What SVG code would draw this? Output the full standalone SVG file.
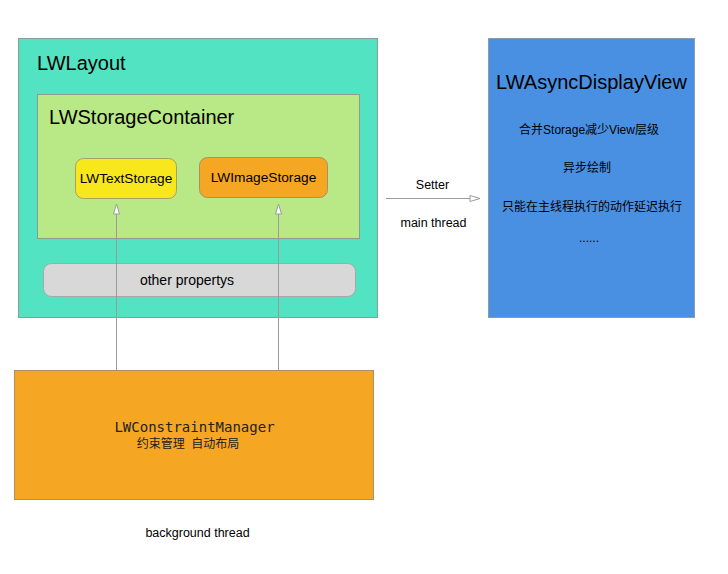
<svg xmlns="http://www.w3.org/2000/svg" width="728" height="574" viewBox="0 0 728 574">
<style>
.sans{font-family:"Liberation Sans","Noto Sans CJK SC",Arial,sans-serif;fill:#000}
.mono{font-family:"DejaVu Sans Mono","Liberation Mono",monospace;fill:#222}
.box{stroke:#8f9a94;stroke-width:1}
.conn{stroke:#9b9b9b;stroke-width:1;fill:none}
</style>
<defs>
<marker id="ah" markerWidth="12" markerHeight="8" refX="11" refY="4" orient="auto" markerUnits="userSpaceOnUse">
<path d="M1,1 L11,4 L1,7 Z" fill="#fff" stroke="#9b9b9b" stroke-width="1"/>
</marker>
</defs>
<rect width="728" height="574" fill="#fff"/>
<g id="lwlayout">
<rect class="box" x="18.5" y="38.5" width="359" height="279" fill="#52E3C2"/>
<text class="sans" x="37" y="70" font-size="20">LWLayout</text>
</g>
<g id="lwstoragecontainer">
<rect class="box" x="37.5" y="94.5" width="322" height="144" fill="#B8E986"/>
<text class="sans" x="49" y="124" font-size="20">LWStorageContainer</text>
</g>
<g id="lwtextstorage">
<rect x="75.5" y="158.5" width="101" height="40" rx="8" fill="#F8E71C" stroke="#a8a060"/>
<text class="sans" x="126" y="183" font-size="13.7" text-anchor="middle">LWTextStorage</text>
</g>
<g id="lwimagestorage">
<rect x="199.5" y="157.5" width="128" height="40" rx="8" fill="#F5A623" stroke="#a89068"/>
<text class="sans" x="263.5" y="181.5" font-size="13.7" text-anchor="middle">LWImageStorage</text>
</g>
<g id="otherpropertys">
<rect x="43.5" y="263.5" width="312" height="33" rx="8" fill="#D8D8D8" stroke="#a8a8a8"/>
<text class="sans" x="187" y="284.5" font-size="14" text-anchor="middle">other propertys</text>
</g>
<g id="lwasyncdisplayview">
<rect x="488.5" y="38.5" width="206" height="279" fill="#4A90E2" stroke="#8a9ab0"/>
<text class="sans" x="591.5" y="89" font-size="20" text-anchor="middle">LWAsyncDisplayView</text>
<text class="sans" x="589" y="133.5" font-size="12" text-anchor="middle">合并Storage减少View层级</text>
<text class="sans" x="587" y="172" font-size="12" text-anchor="middle">异步绘制</text>
<text class="sans" x="592" y="210.5" font-size="12" text-anchor="middle">只能在主线程执行的动作延迟执行</text>
<text class="sans" x="589" y="242" font-size="12" text-anchor="middle">......</text>
</g>
<g id="lwconstraintmanager">
<rect x="14.5" y="370.5" width="359" height="129" fill="#F5A623" stroke="#a89068"/>
<text class="mono" x="194.5" y="432" font-size="14" text-anchor="middle">LWConstraintManager</text>
<text class="sans" x="188" y="447.5" font-size="12" text-anchor="middle" style="fill:#222;word-spacing:3px">约束管理 自动布局</text>
</g>
<g id="labels">
<text class="sans" x="432.5" y="189" font-size="12.5" text-anchor="middle">Setter</text>
<text class="sans" x="433.5" y="227" font-size="12.5" text-anchor="middle">main thread</text>
<text class="sans" x="197.5" y="537" font-size="12.5" text-anchor="middle">background thread</text>
</g>
<g id="connectors">
<line class="conn" x1="116.5" y1="370" x2="116.5" y2="204" marker-end="url(#ah)"/>
<line class="conn" x1="278.5" y1="370" x2="278.5" y2="204" marker-end="url(#ah)"/>
<line class="conn" x1="386" y1="198.5" x2="480" y2="198.5" marker-end="url(#ah)"/>
</g>
</svg>
